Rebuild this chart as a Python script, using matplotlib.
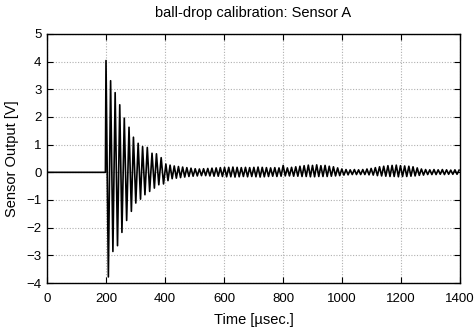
import numpy as np
import matplotlib
matplotlib.use("Agg")
import matplotlib.pyplot as plt

# ---- data ----
# main burst: extrema times [usec] and values [V]
burst_t = [0, 198, 200, 208, 215.6, 223.4, 231, 239, 246.6, 254, 262, 270,
           278, 286, 293, 301, 309, 317, 324, 332, 340, 348, 356, 364,
           371, 379, 387, 395]
burst_v = [0.0, 0.0, 4.04, -3.78, 3.31, -2.86, 2.88, -2.65, 2.44, -2.17, 1.96, -1.74,
           1.63, -1.41, 1.27, -1.11, 1.05, -0.97, 0.93, -0.81, 0.90, -0.69, 0.69, -0.57,
           0.67, -0.45, 0.53, -0.42]

# tail extrema, one every half period starting at tail_start
tail_start = 403.0
tail_half_period = 7.1
tail_v = [
    0.30, -0.30, 0.26, -0.23, 0.23, -0.21, 0.21, -0.19, 0.19, -0.17,
    0.17, -0.15, 0.15, -0.14, 0.13, -0.13, 0.12, -0.12, 0.13, -0.12,
    0.14, -0.13, 0.15, -0.14, 0.16, -0.14, 0.17, -0.15, 0.18, -0.16,
    0.18, -0.16, 0.19, -0.17, 0.18, -0.16, 0.17, -0.15, 0.18, -0.16,
    0.17, -0.15, 0.18, -0.16, 0.19, -0.17, 0.18, -0.16, 0.17, -0.15,
    0.16, -0.14, 0.17, -0.15, 0.16, -0.14, 0.25, -0.13, 0.16, -0.13,
    0.18, -0.14, 0.20, -0.14, 0.22, -0.15, 0.24, -0.15, 0.26, -0.16,
    0.25, -0.16, 0.27, -0.15, 0.24, -0.15, 0.25, -0.15, 0.22, -0.14,
    0.20, -0.13, 0.16, -0.12, 0.12, -0.10, 0.10, -0.09, 0.09, -0.08,
    0.10, -0.08, 0.09, -0.08, 0.10, -0.08, 0.12, -0.09, 0.14, -0.10,
    0.17, -0.12, 0.20, -0.13, 0.22, -0.14, 0.24, -0.15, 0.25, -0.15,
    0.26, -0.16, 0.24, -0.15, 0.23, -0.15, 0.22, -0.14, 0.20, -0.13,
    0.16, -0.11, 0.12, -0.10, 0.10, -0.08, 0.09, -0.08, 0.10, -0.08,
    0.09, -0.07, 0.10, -0.08, 0.09, -0.07, 0.08, -0.07, 0.09, -0.07,
    0.08,
]

x_ticks = [0, 200, 400, 600, 800, 1000, 1200, 1400]
y_ticks = [-4, -3, -2, -1, 0, 1, 2, 3, 4, 5]

title = "ball-drop calibration: Sensor A"
x_label = "Time [\u00b5sec.]"
y_label = "Sensor Output [V]"

# ---- plot ----
plt.rcParams['font.family'] = ['Liberation Sans', 'DejaVu Sans']

tail_t = tail_start + tail_half_period * np.arange(len(tail_v))
t = np.concatenate([burst_t, tail_t])
v = np.concatenate([burst_v, tail_v])

fig = plt.figure(figsize=(4.74, 3.34), dpi=100)
ax = fig.add_axes([47/474, 1-283/334, (460-47)/474, (283-34)/334])

ax.plot(t, v, color='black', lw=1.2)

ax.set_xlim(0, 1400)
ax.set_ylim(-4, 5)
ax.set_xticks(x_ticks)
ax.set_yticks(y_ticks)
ax.tick_params(direction='in', top=True, right=True, length=4, width=0.8,
               labelsize=9.5)
ax.tick_params(axis='x', pad=7)
ax.tick_params(axis='y', pad=4)
ax.grid(True, color='#b0b0b0', linestyle=(0, (1, 1.5)), linewidth=0.8)
for s in ax.spines.values():
    s.set_linewidth(1.0)
    s.set_color('black')

ax.set_title(title, fontsize=10.5, pad=12)
ax.set_xlabel(x_label, fontsize=10.5, labelpad=6)
ax.set_ylabel(y_label, fontsize=10.5, labelpad=5.5)

fig.savefig("out.png", dpi=100)
